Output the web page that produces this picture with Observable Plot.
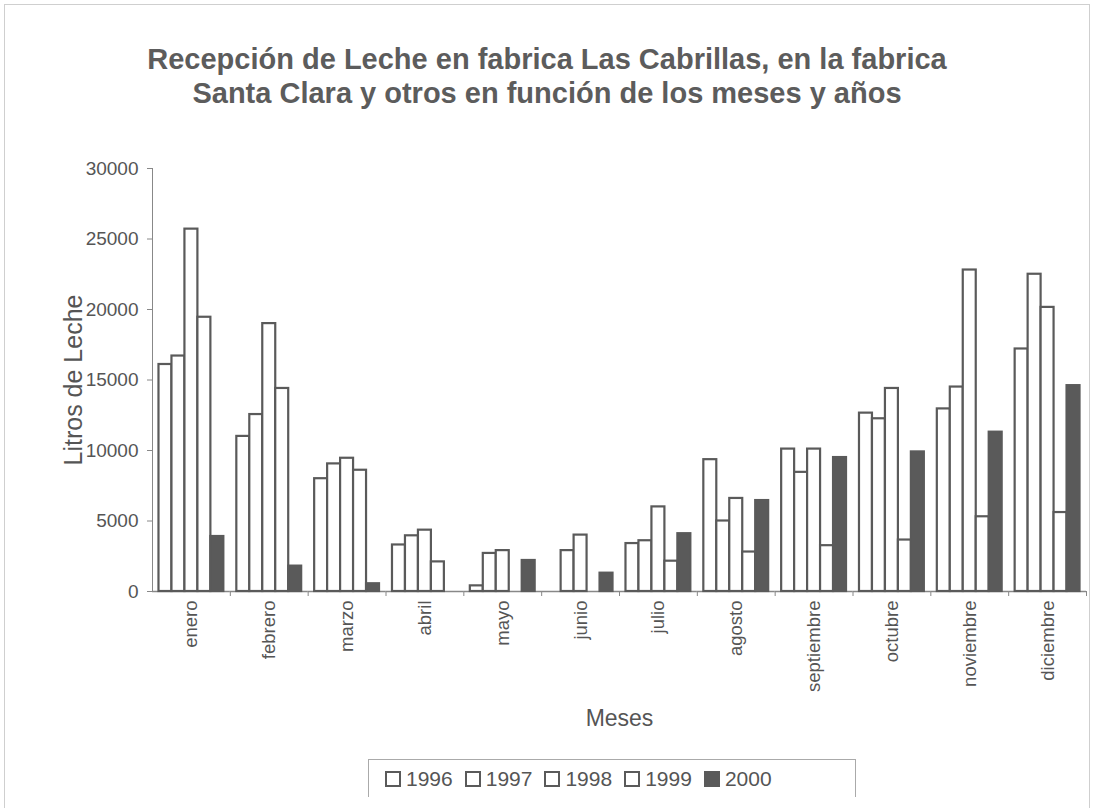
<!DOCTYPE html>
<html>
<head>
<meta charset="utf-8">
<script src="https://cdn.jsdelivr.net/npm/d3@7"></script>
<script src="https://cdn.jsdelivr.net/npm/@observablehq/plot@0.6"></script>
<style>
  html, body { margin: 0; padding: 0; background: #fff; }
  #page { position: relative; width: 1094px; height: 808px; overflow: hidden; font-family: "Liberation Sans", Arial, sans-serif; }
  #border { position: absolute; left: 4px; top: 4px; width: 1084px; height: 810px; border: 1px solid #cfcfcf; }
  #title { position: absolute; left: 0; width: 1094px; top: 42px; text-align: center; font-weight: bold; font-size: 29px; line-height: 34px; color: #5c5c5c; }
  #chart { position: absolute; left: 0; top: 0; }
  #chart svg [aria-label="y-axis label"] text { font-size: 25px; }
  #chart svg [aria-label="fx-axis label"] text { font-size: 23px; }
  #chart svg [aria-label="y-axis tick label"] text { font-size: 19px; }
  #chart svg [aria-label="fx-axis tick label"] text { font-size: 18.5px; }
  #legend { position: absolute; left: 368px; top: 759px; width: 488px; height: 38px; border: 1px solid #aaa; border-bottom: none; display: flex; align-items: center; justify-content: flex-start; padding-left: 16px; box-sizing: border-box; gap: 12px; font-size: 21px; color: #555; }
  .item { display: flex; align-items: center; gap: 5px; }
  .sw { width: 12px; height: 12px; border: 2px solid #5a5a5a; background: #fff; box-sizing: content-box; }
</style>
</head>
<body>
<div id="page">
  <div id="border"></div>
  <div id="title">Recepción de Leche en fabrica Las Cabrillas, en la fabrica<br>Santa Clara y otros en función de los meses y años</div>
  <div id="chart"></div>
  <div id="legend"></div>
</div>
<script>
const months = ["enero","febrero","marzo","abril","mayo","junio","julio","agosto","septiembre","octubre","noviembre","diciembre"];
const years = ["1996","1997","1998","1999","2000"];
const v1996 = [16100, 11000, 8000, 3300, 400, 0, 3400, 9350, 10100, 12650, 12950, 17200];
const v1997 = [16700, 12550, 9050, 3950, 2700, 2900, 3600, 5000, 8450, 12250, 14500, 22500];
const v1998 = [25700, 19000, 9450, 4350, 2900, 4000, 6000, 6600, 10100, 14400, 22800, 20150];
const v1999 = [19450, 14400, 8600, 2100, 0, 0, 2150, 2800, 3250, 3650, 5300, 5600];
const v2000 = [3900, 1800, 550, 0, 2200, 1300, 4100, 6450, 9500, 9900, 11300, 14600];
const yTicks = [0, 5000, 10000, 15000, 20000, 25000, 30000];
const fills = {"1996": "#fff", "1997": "#fff", "1998": "#fff", "1999": "#fff", "2000": "#5a5a5a"};

const series = [v1996, v1997, v1998, v1999, v2000];
const data = [];
months.forEach((m, i) => years.forEach((y, j) => data.push({month: m, year: y, value: series[j][i]})));

const W = 1094, H = 808, mL = 152, mR = 8, mT = 168, mB = 217;
const halfFacet = (W - mL - mR) / months.length / 2;

const chart = Plot.plot({
  width: W, height: H,
  marginLeft: mL, marginRight: mR, marginTop: mT, marginBottom: mB,
  style: {fontFamily: "'Liberation Sans', Arial, sans-serif", fontSize: "15px", color: "#555", background: "transparent"},
  fx: {domain: months, padding: 0, round: false},
  x: {domain: years, paddingInner: 0, paddingOuter: 0.5, round: false, axis: null},
  y: {domain: [0, 30000]},
  marks: [
    Plot.ruleY([0], {stroke: "#888", strokeWidth: 1.5}),
    Plot.barY(data, {fx: "month", x: "year", y: "value", fill: d => fills[d.year], stroke: "#5a5a5a", strokeWidth: 2.2, inset: 0}),
    Plot.frame({anchor: "left", facetAnchor: "left", stroke: "#888"}),
    Plot.axisY({ticks: yTicks, tickSize: 5, tickPadding: 9, tickFormat: d => String(d), stroke: "#888",
      label: "Litros de Leche", labelAnchor: "center", labelOffset: 88, labelArrow: false}),
    Plot.axisFx({anchor: "bottom", tickRotate: -90, tickSize: 0, tickPadding: 9, label: "Meses", labelAnchor: "center", labelOffset: 134, labelArrow: false}),
    Plot.axisFx({anchor: "bottom", tickSize: 5, text: null, label: null, dx: halfFacet, stroke: "#888"})
  ]
});
document.getElementById("chart").appendChild(chart);

const legend = document.getElementById("legend");
years.forEach(y => {
  const it = document.createElement("div");
  it.className = "item";
  const sw = document.createElement("div");
  sw.className = "sw";
  sw.style.background = fills[y];
  const t = document.createElement("span");
  t.textContent = y;
  it.appendChild(sw); it.appendChild(t);
  legend.appendChild(it);
});
</script>
</body>
</html>
